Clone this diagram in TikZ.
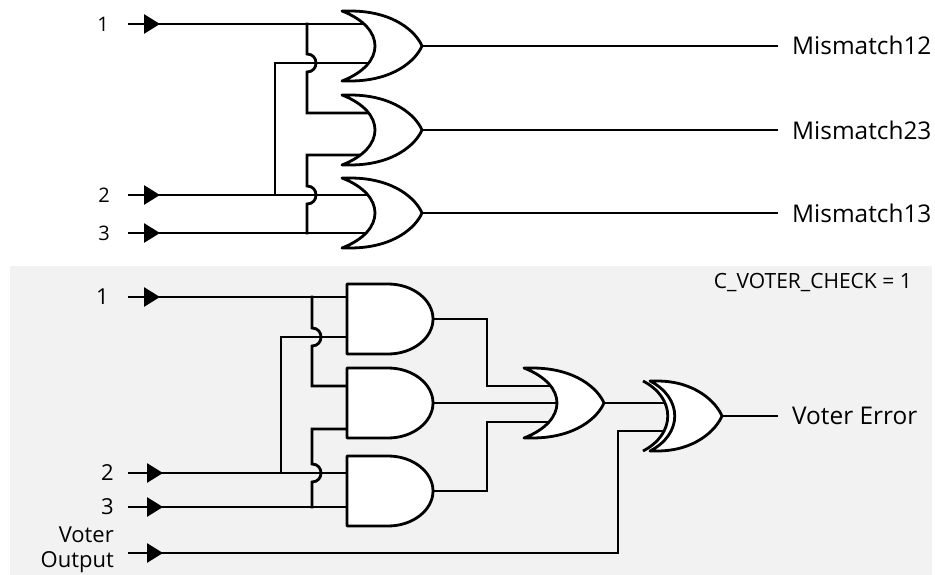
\documentclass[tikz,border=0pt]{standalone}
\usepackage{fontspec}
\setmainfont{Open Sans}
\usetikzlibrary{calc,positioning,arrows.meta}

\begin{document}
\begin{tikzpicture}[x=1pt, y=-1pt,
  wire/.style = {line width=2.8pt, line cap=rect},
  gate/.style = {line width=2.8pt, fill=white, line join=round},
  pin/.style = {line width=2.8pt, -{Triangle[length=16pt,width=19pt]}},
  lbl/.style = {inner sep=0pt, font=\fontsize{22}{25}\selectfont},
  small/.style = {inner sep=0pt, font=\fontsize{20}{24}\selectfont},
  big/.style = {inner sep=0pt, font=\fontsize{24.4}{28}\selectfont},
  orgate/.pic = {
    \draw[gate] (-40,-35) -- (-32,-35) .. controls (12,-35) and (34,-14) .. (40,0)
      .. controls (34,14) and (12,35) .. (-32,35) -- (-40,35)
      .. controls (4,18) and (4,-18) .. cycle;
  },
  andgate/.pic = {
    \draw[gate] (-43,-35) -- (-2,-35) .. controls (23,-35) and (43,-19) .. (43,0)
      .. controls (43,19) and (23,35) .. (-2,35) -- (-43,35) -- cycle;
  },
  xorgate/.pic = {
    \fill[white] (-43,-35) -- (-29,-35) .. controls (9,-35) and (30,-14) .. (36,0)
      .. controls (30,14) and (9,35) .. (-29,35) -- (-43,35)
      .. controls (-10,18) and (-10,-18) .. cycle;
    \draw[gate] (-36,-35) -- (-29,-35) .. controls (9,-35) and (30,-14) .. (36,0)
      .. controls (30,14) and (9,35) .. (-29,35) -- (-36,35)
      .. controls (-3,18) and (-3,-18) .. cycle;
    \draw[gate, fill=none] (-43,-35) .. controls (-10,-18) and (-10,18) .. (-43,35);
  }]

  \useasboundingbox (0,0) rectangle (935,575);
  \fill[black!5] (10,266) rectangle (932,575);

  % mismatch part
  \coordinate (a1) at (129,24);
  \coordinate (a2) at (129,195);
  \coordinate (a3) at (129,233);
  \coordinate (o1) at (382,46);
  \coordinate (o2) at (382,130);
  \coordinate (o3) at (382,213);

  \node[small, left=20pt of a1] (n1) {1};
  \node[small, left=19pt of a2] (n2) {2};
  \node[small, left=19pt of a3] (n3) {3};

  \node[big, anchor=west] (m12) at (792,45) {Mismatch12};
  \node[big, anchor=west] (m23) at (792,130) {Mismatch23};
  \node[big, anchor=west] (m13) at (792,213) {Mismatch13};

  \draw[wire] (a1) -- (a1 -| o1);
  \draw[wire] (a2) -- (a2 -| o3);
  \draw[wire] (a3) -- (a3 -| o3);
  \draw[wire] (307,24) -- (307,54) .. controls +(12,0) and +(12,0) .. (307,72)
    -- (307,113) -- (382,113);
  \draw[wire] (275,195) -- (275,63) -- (382,63);
  \draw[wire] (307,233) -- (307,204) .. controls +(12,0) and +(12,0) .. (307,186)
    -- (307,155) -- (382,155);
  \draw[wire] (o1) -- (777,46);
  \draw[wire] (o2) -- (777,130);
  \draw[wire] (o3) -- (777,213);

  \draw[pin] (a1) -- ++(31,0);
  \draw[pin] (a2) -- ++(31,0);
  \draw[pin] (a3) -- ++(31,0);

  \pic at (o1) {orgate};
  \pic at (o2) {orgate};
  \pic at (o3) {orgate};

  % voter check part
  \coordinate (b1) at (129,297);
  \coordinate (b2) at (129,473);
  \coordinate (b3) at (129,507);
  \coordinate (b4) at (129,553);
  \coordinate (g1) at (390,319);
  \coordinate (g2) at (390,403);
  \coordinate (g3) at (390,491);
  \coordinate (ore) at (564,403);
  \coordinate (xg) at (686,416);

  \node[lbl, left=20pt of b1] (p1) {1};
  \node[lbl, left=15pt of b2] (p2) {2};
  \node[lbl, left=15pt of b3] (p3) {3};
  \node[lbl, align=right, anchor=east] (vo) at (114,550) {Voter\\Output};
  \node[inner sep=0pt, font=\fontsize{21}{25}\selectfont, anchor=east] (chk) at (912,283) {C\_VOTER\_CHECK = 1};
  \node[big, anchor=west] (err) at (792,416) {Voter Error};

  \draw[wire] (b1) -- (b1 -| g1);
  \draw[wire] (b2) -- (b2 -| g3);
  \draw[wire] (b3) -- (b3 -| g3);
  \draw[wire] (312,297) -- (312,328) .. controls +(12,0) and +(12,0) .. (312,346)
    -- (312,386) -- (390,386);
  \draw[wire] (281,473) -- (281,337) -- (390,337);
  \draw[wire] (312,507) -- (312,482) .. controls +(12,0) and +(12,0) .. (312,464)
    -- (312,429) -- (390,429);
  \draw[wire] (g1) -- (487,319) -- (487,386) -- (564,386);
  \draw[wire] (g2) -- (ore);
  \draw[wire] (g3) -- (487,491) -- (487,422) -- (564,422);
  \draw[wire] (ore) -- (xg |- ore);
  \draw[wire] (b4) -- (618,553) -- (618,431) -- (686,431);
  \draw[wire] (xg) -- (777,416);

  \draw[pin] (b1) -- ++(31,0);
  \draw[pin] (b2) -- ++(34,0);
  \draw[pin] (b3) -- ++(34,0);
  \draw[pin] (b4) -- ++(34,0);

  \pic at (g1) {andgate};
  \pic at (g2) {andgate};
  \pic at (g3) {andgate};
  \pic at (ore) {orgate};
  \pic at (xg) {xorgate};
\end{tikzpicture}
\end{document}
